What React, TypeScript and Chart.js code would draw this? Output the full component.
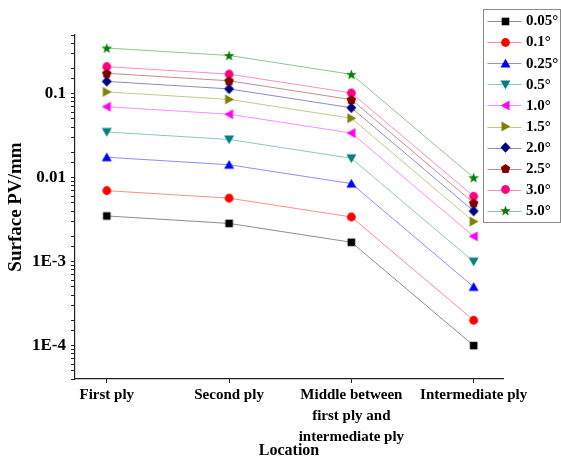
import React, { useEffect, useRef } from 'react';
import { Chart, registerables } from 'chart.js';

Chart.register(...registerables);

const locations = [
  'First ply',
  'Second ply',
  'Middle between\nfirst ply and\nintermediate ply',
  'Intermediate ply',
];

const seriesNames = ['0.05°', '0.1°', '0.25°', '0.5°', '1.0°', '1.5°', '2.0°', '2.5°', '3.0°', '5.0°'];

const pv005 = [0.0035, 0.00285, 0.0017, 0.0001];
const pv01 = [0.007, 0.0057, 0.0034, 0.0002];
const pv025 = [0.0175, 0.01425, 0.0085, 0.0005];
const pv05 = [0.035, 0.0285, 0.017, 0.001];
const pv10 = [0.07, 0.057, 0.034, 0.002];
const pv15 = [0.105, 0.0855, 0.051, 0.003];
const pv20 = [0.14, 0.114, 0.068, 0.004];
const pv25 = [0.175, 0.1425, 0.085, 0.005];
const pv30 = [0.21, 0.171, 0.102, 0.006];
const pv50 = [0.35, 0.285, 0.17, 0.01];

const seriesValues = [pv005, pv01, pv025, pv05, pv10, pv15, pv20, pv25, pv30, pv50];

const seriesColors = ['#000000', '#FF0000', '#0000FF', '#008080', '#FF00FF', '#808000', '#000080', '#800000', '#FF0080', '#008000'];
const seriesShapes = ['square', 'circle', 'triUp', 'triDown', 'triLeft', 'triRight', 'diamond', 'pentagon', 'circle', 'star'];

const yTickValues = [0.1, 0.01, 0.001, 0.0001];
const yTickLabels = ['0.1', '0.01', '1E-3', '1E-4'];

const FONT = "'Liberation Serif', 'Times New Roman', serif";

function hexToRgba(hex: string, a: number) {
  const n = parseInt(hex.slice(1), 16);
  return `rgba(${(n >> 16) & 255},${(n >> 8) & 255},${n & 255},${a})`;
}

function makeMarker(shape: string, color: string) {
  const s = 13;
  const c = document.createElement('canvas');
  c.width = s;
  c.height = s;
  const g = c.getContext('2d')!;
  g.translate(s / 2, s / 2);
  g.fillStyle = color;
  g.beginPath();
  const poly = (pts: number[][]) => {
    g.moveTo(pts[0][0], pts[0][1]);
    for (let i = 1; i < pts.length; i++) g.lineTo(pts[i][0], pts[i][1]);
    g.closePath();
  };
  switch (shape) {
    case 'square':
      g.rect(-3.8, -3.8, 7.6, 7.6);
      break;
    case 'circle':
      g.arc(0, 0, 4.4, 0, Math.PI * 2);
      break;
    case 'triUp':
      poly([[0, -4.8], [5, 4], [-5, 4]]);
      break;
    case 'triDown':
      poly([[0, 4.8], [5, -4], [-5, -4]]);
      break;
    case 'triLeft':
      poly([[-4.8, 0], [4, -5], [4, 5]]);
      break;
    case 'triRight':
      poly([[4.8, 0], [-4, -5], [-4, 5]]);
      break;
    case 'diamond':
      poly([[0, -5.2], [5, 0], [0, 5.2], [-5, 0]]);
      break;
    case 'pentagon': {
      const pts: number[][] = [];
      for (let i = 0; i < 5; i++) {
        const a = -Math.PI / 2 + (i * 2 * Math.PI) / 5;
        pts.push([5 * Math.cos(a), 5 * Math.sin(a) + 0.4]);
      }
      poly(pts);
      break;
    }
    case 'star': {
      const pts: number[][] = [];
      for (let i = 0; i < 10; i++) {
        const r = i % 2 ? 2.3 : 5.6;
        const a = -Math.PI / 2 + (i * Math.PI) / 5;
        pts.push([r * Math.cos(a), r * Math.sin(a) + 0.5]);
      }
      poly(pts);
      break;
    }
  }
  g.fill();
  return c;
}

const legendPlugin = {
  id: 'boxLegend',
  afterDraw(chart: any) {
    const ctx = chart.ctx as CanvasRenderingContext2D;
    const right = chart.width - 0.5;
    const left = right - 77;
    const top = 9.5;
    const rowH = 21.1;
    const n = chart.data.datasets.length;
    ctx.save();
    ctx.strokeStyle = '#8a8a8a';
    ctx.lineWidth = 1;
    ctx.strokeRect(left, top, right - left, rowH * n + 2);
    chart.data.datasets.forEach((ds: any, i: number) => {
      const y = top + 11.5 + i * rowH;
      ctx.strokeStyle = ds.borderColor;
      ctx.lineWidth = 1;
      ctx.beginPath();
      ctx.moveTo(left + 4, Math.round(y) + 0.5);
      ctx.lineTo(left + 38, Math.round(y) + 0.5);
      ctx.stroke();
      const m = ds.pointStyle as HTMLCanvasElement;
      ctx.drawImage(m, Math.round(left + 21.5 - m.width / 2), Math.round(y - m.height / 2));
      ctx.fillStyle = '#000';
      ctx.font = `bold 15px ${FONT}`;
      ctx.textBaseline = 'middle';
      ctx.textAlign = 'left';
      ctx.fillText(ds.label, left + 42.5, y + 0.5);
    });
    ctx.restore();
  },
};

export default function App() {
  const ref = useRef<HTMLCanvasElement>(null);

  useEffect(() => {
    const canvas = ref.current!;
    const datasets = seriesNames.map((name, si) => ({
      label: name,
      data: seriesValues[si].map((v, i) => ({ x: i, y: v })),
      borderColor: hexToRgba(seriesColors[si], 0.45),
      backgroundColor: seriesColors[si],
      borderWidth: 1,
      pointStyle: makeMarker(seriesShapes[si], seriesColors[si]),
      pointRadius: 5,
      tension: 0,
      fill: false,
    }));

    const chart = new Chart(canvas, {
      type: 'line',
      data: { datasets },
      plugins: [legendPlugin],
      options: {
        animation: false,
        responsive: false,
        devicePixelRatio: 1,
        layout: { padding: { left: 0, top: 35, right: 58, bottom: 0 } },
        plugins: { legend: { display: false }, tooltip: { enabled: false } },
        scales: {
          x: {
            type: 'linear',
            min: -0.26,
            max: 3.24,
            afterBuildTicks: (s: any) => {
              s.ticks = locations.map((_, i) => ({ value: i }));
            },
            afterFit: (s: any) => {
              s.height = 80;
            },
            grid: { drawOnChartArea: false, drawTicks: true, tickLength: 4, color: '#222' },
            border: { color: '#222', width: 1.2 },
            ticks: {
              autoSkip: false,
              maxRotation: 0,
              minRotation: 0,
              padding: 2,
              color: '#000',
              font: { family: FONT, size: 15, weight: 'bold', lineHeight: 1.4 },
              callback: (v: any) => {
                const s = locations[Math.round(Number(v))];
                return s ? s.split('\n') : '';
              },
            },
            title: {
              display: true,
              text: 'Location',
              color: '#000',
              font: { family: FONT, size: 16, weight: 'bold', lineHeight: 1.0 },
              padding: { top: 0, bottom: 0 },
            },
          },
          y: {
            type: 'logarithmic',
            min: 4e-5,
            max: 0.5,
            afterFit: (s: any) => {
              s.width = 75;
            },
            grid: { drawOnChartArea: false, drawTicks: true, tickLength: 4, color: '#222' },
            border: { color: '#222', width: 1.2 },
            ticks: {
              autoSkip: false,
              padding: 5,
              color: '#000',
              font: { family: FONT, size: 17, weight: 'bold' },
              callback: (v: any) => {
                const idx = yTickValues.findIndex((t) => Math.abs(t - Number(v)) / t < 1e-6);
                return idx >= 0 ? yTickLabels[idx] : '';
              },
            },
            title: {
              display: true,
              text: 'Surface PV/mm',
              color: '#000',
              font: { family: FONT, size: 19, weight: 'bold' },
              padding: { top: 5, bottom: 0 },
            },
          },
        },
      } as any,
    });
    return () => chart.destroy();
  }, []);

  return (
    <div style={{ position: 'fixed', left: 0, top: 0, width: 561, height: 459, background: '#fff' }}>
      <canvas ref={ref} width={561} height={459} style={{ display: 'block', width: 561, height: 459 }} />
    </div>
  );
}
